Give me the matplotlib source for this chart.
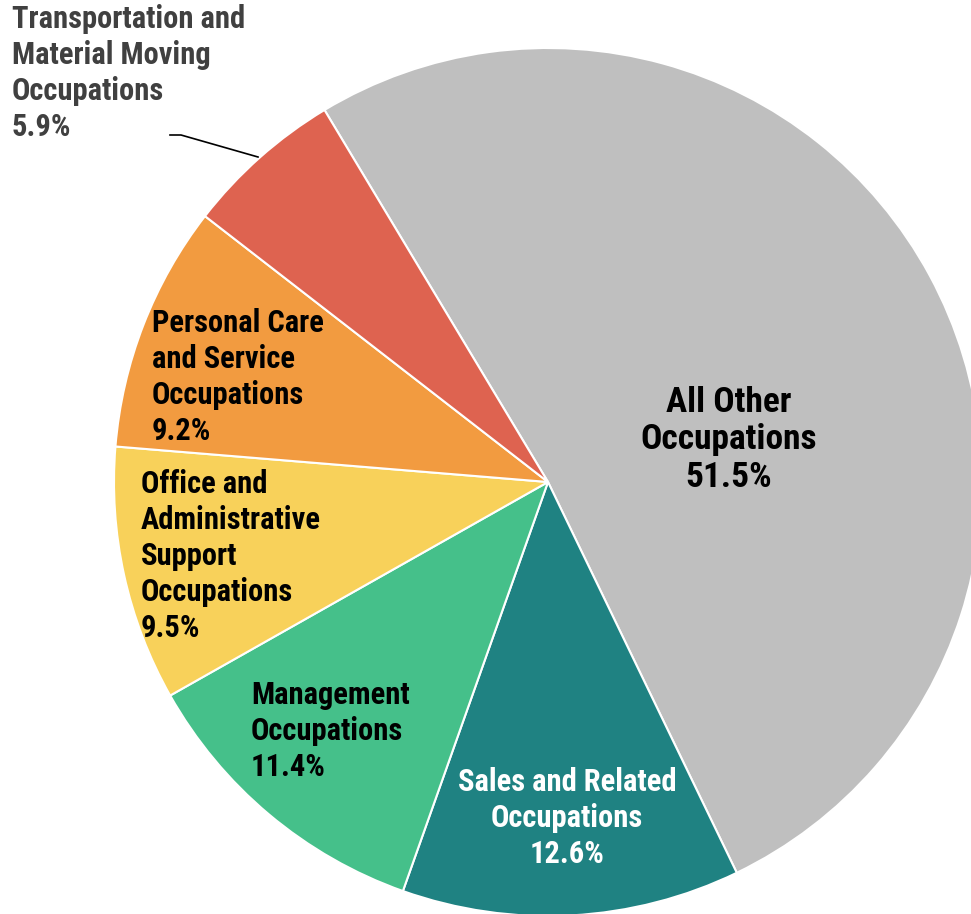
import matplotlib
matplotlib.use("Agg")
import matplotlib.pyplot as plt

family = "Roboto Condensed"

categories = ["All Other\nOccupations", "Sales and Related\nOccupations",
              "Management\nOccupations", "Office and\nAdministrative\nSupport\nOccupations",
              "Personal Care\nand Service\nOccupations",
              "Transportation and\nMaterial Moving\nOccupations"]
values = [51.5, 12.6, 11.4, 9.5, 9.2, 5.9]
colors = ["#BFBFBF", "#1F8282", "#45C08A", "#F8D15A", "#F29B40", "#DE6350"]

W, H = 971, 914
fig = plt.figure(figsize=(W / 100, H / 100), dpi=100)
ax = fig.add_axes([0, 0, 1, 1])

cx, cy, r = 548, H - 482, 434
ax.pie(values, colors=colors, startangle=121, counterclock=False,
       center=(cx, cy), radius=r, frame=True,
       wedgeprops=dict(edgecolor="white", linewidth=1.5))
ax.set_xlim(0, W)
ax.set_ylim(0, H)
ax.set_aspect("equal")
ax.axis("off")

kw = dict(fontsize=22, fontweight="bold", family=family, linespacing=1.26)
kw_big = dict(fontsize=25.5, fontweight="bold", family=family, linespacing=1.18)
labels = [f"{c}\n{v}%" for c, v in zip(categories, values)]

ax.text(729, H - 440, labels[0], ha="center", va="center", color="black", **kw_big)
ax.text(567, H - 818, labels[1], ha="center", va="center", color="white", **kw)
ax.text(251, H - 731, labels[2], ha="left", va="center", color="black", **kw)
ax.text(141, H - 556, labels[3], ha="left", va="center", color="black", **kw)
ax.text(152, H - 377, labels[4], ha="left", va="center", color="black", **kw)
ax.text(12, H - 73, labels[5], ha="left", va="center", color="#404040", **kw)
ax.plot([170, 181, 258], [H - 135, H - 135, H - 157], color="black", lw=1.2)

fig.savefig("out.png", dpi=100)
